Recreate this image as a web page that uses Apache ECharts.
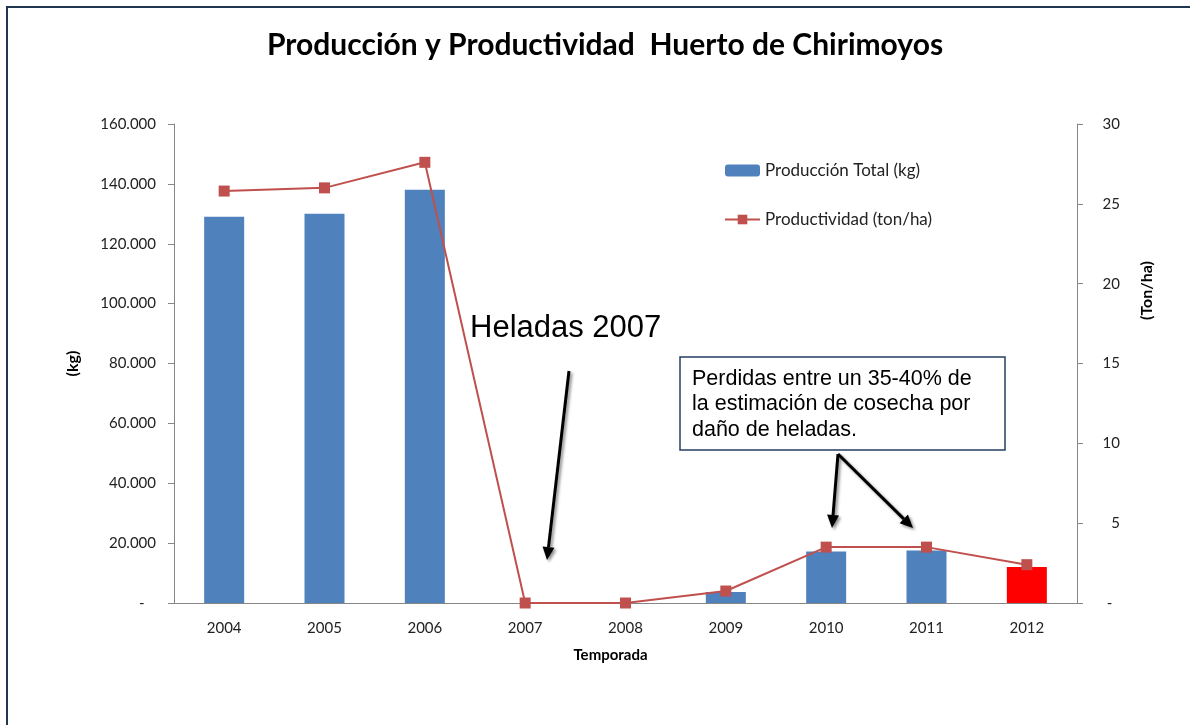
<!DOCTYPE html>
<html>
<head>
<meta charset="utf-8">
<script src="https://cdn.jsdelivr.net/npm/echarts@6/dist/echarts.min.js"></script>
<style>
  html, body { margin: 0; padding: 0; background: #fff; }
  #chart { width: 1190px; height: 725px; }
</style>
</head>
<body>
<div id="chart"></div>
<script>
// datos
var temporadas = ['2004', '2005', '2006', '2007', '2008', '2009', '2010', '2011', '2012'];
var produccionKg = [129000, 130000, 138000, 0, 0, 3700, 17200, 17500, 12000];
var productividad = [25.8, 26.0, 27.6, 0, 0, 0.75, 3.5, 3.5, 2.4];
var kgTicks = [0, 20000, 40000, 60000, 80000, 100000, 120000, 140000, 160000];
var tonTicks = [0, 5, 10, 15, 20, 25, 30];

var chart = echarts.init(document.getElementById('chart'));

function miles(v) {
  if (v === 0) return '-   ';
  return String(v).replace(/\B(?=(\d{3})+(?!\d))/g, '.');
}

// flecha negra con sombra
function flecha(x1, y1, x2, y2) {
  var ang = Math.atan2(y2 - y1, x2 - x1);
  var len = 13, w = 6;
  var bx = x2 - len * Math.cos(ang), by = y2 - len * Math.sin(ang);
  var px = -Math.sin(ang) * w, py = Math.cos(ang) * w;
  var sombra = { shadowBlur: 3, shadowColor: 'rgba(0,0,0,0.45)', shadowOffsetX: 2, shadowOffsetY: 2 };
  return [{
    type: 'line',
    shape: { x1: x1, y1: y1, x2: bx, y2: by },
    style: Object.assign({ stroke: '#000', lineWidth: 3 }, sombra)
  }, {
    type: 'polygon',
    shape: { points: [[x2, y2], [bx + px, by + py], [bx - px, by - py]] },
    style: Object.assign({ fill: '#000' }, sombra)
  }];
}

var barData = produccionKg.map(function (v, i) {
  if (i === produccionKg.length - 1) return { value: v, itemStyle: { color: '#FF0000' } };
  return v;
});

var graficos = [
  { type: 'line', shape: { x1: 6, y1: 7, x2: 1190, y2: 7 }, style: { stroke: '#1F3550', lineWidth: 2 } },
  { type: 'line', shape: { x1: 7, y1: 7, x2: 7, y2: 725 }, style: { stroke: '#1F3550', lineWidth: 2 } },
  {
    type: 'text', left: 470, top: 313,
    style: { text: 'Heladas 2007', font: '31px "Liberation Sans", Arial', fill: '#000' }
  },
  {
    type: 'rect', shape: { x: 680, y: 357, width: 325, height: 93 },
    style: { fill: '#fff', stroke: '#243F60', lineWidth: 1.5 }
  },
  {
    type: 'text', left: 692, top: 366,
    style: {
      text: 'Perdidas entre un 35-40% de\nla estimación de cosecha por\ndaño de heladas.',
      font: '21.5px "Liberation Sans", Arial', lineHeight: 25.5, fill: '#000'
    }
  }
];
graficos = graficos.concat(flecha(569, 371, 547, 560), flecha(838, 454, 832, 528), flecha(838, 454, 913, 528));

var option = {
  backgroundColor: '#fff',
  animation: false,
  title: {
    text: 'Producción y Productividad  Huerto de Chirimoyos',
    left: 262,
    top: 25,
    textStyle: { fontFamily: 'Lato', fontWeight: 'bold', fontSize: 30, color: '#000' }
  },
  legend: {
    orient: 'vertical',
    left: 724,
    top: 162,
    padding: 0,
    itemWidth: 35,
    itemHeight: 12,
    itemGap: 32,
    textStyle: { fontFamily: 'Lato', fontSize: 17, color: '#222' },
    data: ['Producción Total (kg)', 'Productividad (ton/ha)']
  },
  grid: { left: 174, right: 113, top: 124, bottom: 122 },
  xAxis: {
    type: 'category',
    data: temporadas,
    name: 'Temporada',
    nameLocation: 'middle',
    nameGap: 45,
    nameTextStyle: { fontFamily: 'Lato', fontWeight: 'bold', fontSize: 15, color: '#000', padding: [0, 30, 0, 0] },
    axisLine: { lineStyle: { color: '#868686' } },
    axisTick: { show: false },
    axisLabel: { fontFamily: 'Lato', fontSize: 15, color: '#222', margin: 18 }
  },
  yAxis: [{
    type: 'value',
    min: kgTicks[0],
    max: kgTicks[kgTicks.length - 1],
    interval: kgTicks[1] - kgTicks[0],
    name: '(kg)',
    nameLocation: 'middle',
    nameGap: 93,
    nameTextStyle: { fontFamily: 'Lato', fontWeight: 'bold', fontSize: 16, color: '#000' },
    axisLine: { show: true, lineStyle: { color: '#868686' } },
    axisTick: { show: true, length: 6, lineStyle: { color: '#868686' } },
    splitLine: { show: false },
    axisLabel: { fontFamily: 'Lato', fontSize: 15, color: '#222', margin: 18, formatter: miles }
  }, {
    type: 'value',
    position: 'right',
    min: tonTicks[0],
    max: tonTicks[tonTicks.length - 1],
    interval: tonTicks[1] - tonTicks[0],
    name: '(Ton/ha)',
    nameLocation: 'middle',
    nameRotate: 90,
    nameGap: 62,
    nameTextStyle: { fontFamily: 'Lato', fontWeight: 'bold', fontSize: 16, color: '#000', padding: [0, 0, 0, 146] },
    axisLine: { show: true, lineStyle: { color: '#868686' } },
    axisTick: { show: true, length: 6, lineStyle: { color: '#868686' } },
    splitLine: { show: false },
    axisLabel: {
      fontFamily: 'Lato', fontSize: 15, color: '#222', margin: 43, align: 'right',
      formatter: function (v) { return v === 0 ? '-  ' : String(v); }
    }
  }],
  series: [{
    name: 'Producción Total (kg)',
    type: 'bar',
    data: barData,
    barWidth: 40,
    itemStyle: { color: '#4F81BD' }
  }, {
    name: 'Productividad (ton/ha)',
    type: 'line',
    yAxisIndex: 1,
    data: productividad,
    symbol: 'rect',
    symbolSize: 11,
    lineStyle: { color: '#C0504D', width: 2 },
    itemStyle: { color: '#C0504D' },
    z: 3
  }],
  graphic: graficos
};

chart.setOption(option);
</script>
</body>
</html>
